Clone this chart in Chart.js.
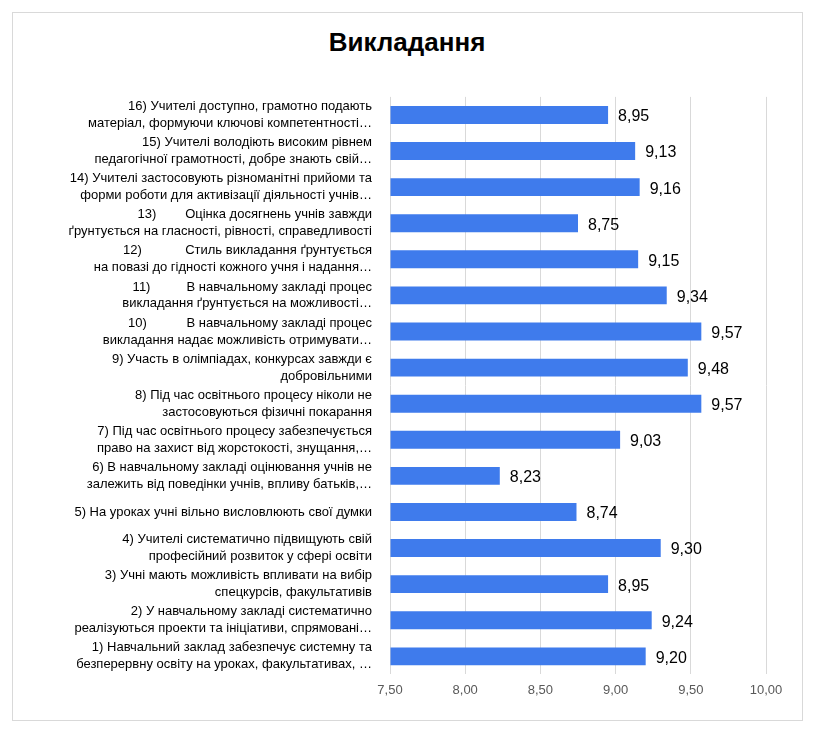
<!DOCTYPE html>
<html><head><meta charset="utf-8">
<script src="https://cdn.jsdelivr.net/npm/chart.js@4"></script>
<style>
body{margin:0;background:#fff;}
#box{position:absolute;left:12px;top:12px;width:789px;height:707px;border:1px solid #d9d9d9;}
#t{position:absolute;left:0;top:27px;width:814px;text-align:center;font:bold 26px "Liberation Sans",Arial,sans-serif;color:#000;}
#wrap{position:absolute;left:0;top:70px;width:814px;height:650px;}
</style></head><body>
<div id="box"></div>
<div id="t">Викладання</div>
<div id="wrap"><canvas id="c"></canvas></div>
<script>
const labels = [
  ["16) Учителі доступно, грамотно подають","матеріал, формуючи ключові компетентності…"],
  ["15) Учителі володіють високим рівнем","педагогічної грамотності, добре знають свій…"],
  ["14) Учителі застосовують різноманітні прийоми та","форми роботи для активізації діяльності учнів…"],
  ["13)        Оцінка досягнень учнів завжди","ґрунтується на гласності, рівності, справедливості"],
  ["12)            Стиль викладання ґрунтується","на повазі до гідності кожного учня і надання…"],
  ["11)          В навчальному закладі процес","викладання ґрунтується на можливості…"],
  ["10)           В навчальному закладі процес","викладання надає можливість отримувати…"],
  ["9) Участь в олімпіадах, конкурсах завжди є","добровільними"],
  ["8) Під час освітнього процесу ніколи не","застосовуються фізичні покарання"],
  ["7) Під час освітнього процесу забезпечується","право на захист від жорстокості, знущання,…"],
  ["6) В навчальному закладі оцінювання учнів не","залежить від поведінки учнів, впливу батьків,…"],
  "5) На уроках учні вільно висловлюють свої думки",
  ["4) Учителі систематично підвищують свій","професійний розвиток у сфері освіти"],
  ["3) Учні мають можливість впливати на вибір","спецкурсів, факультативів"],
  ["2) У навчальному закладі систематично","реалізуються проекти та ініціативи, спрямовані…"],
  ["1) Навчальний заклад забезпечує системну та","безперервну освіту на уроках, факультативах, …"]
];
const values = [8.95, 9.13, 9.16, 8.75, 9.15, 9.34, 9.57, 9.48, 9.57, 9.03, 8.23, 8.74, 9.30, 8.95, 9.24, 9.20];
const xMin = 7.5, xMax = 10, xStep = 0.5;
const fmt = v => v.toFixed(2).replace('.', ',');

const valueLabels = {
  id: 'valueLabels',
  afterDatasetsDraw(chart) {
    const ctx = chart.ctx;
    ctx.save();
    ctx.font = '16px "Liberation Sans", Arial, sans-serif';
    ctx.fillStyle = '#000';
    ctx.textBaseline = 'middle';
    chart.getDatasetMeta(0).data.forEach((b, i) => {
      ctx.fillText(fmt(values[i]), b.x + 10, b.y + 2);
    });
    ctx.restore();
  }
};

new Chart(document.getElementById('c'), {
  type: 'bar',
  data: { labels, datasets: [{
    data: values,
    backgroundColor: c => {
      const el = c.element;
      if (!el || !Number.isFinite(el.y)) return '#3f7bec';
      const h = 9;
      const g = c.chart.ctx.createLinearGradient(0, el.y - h, 0, el.y + h);
      g.addColorStop(0, '#6a9af7'); g.addColorStop(1, '#2563e0');
      return g;
    },
    barPercentage: 0.8, categoryPercentage: 0.62,
    base: xMin
  }]},
  options: {
    indexAxis: 'y', responsive: true, maintainAspectRatio: false, animation: false,
    layout: { padding: { top: 10, right: 48, bottom: 14, left: 0 } },
    plugins: { legend: { display: false }, tooltip: { enabled: false } },
    scales: {
      x: { min: xMin, max: xMax, ticks: { stepSize: xStep, callback: v => fmt(v), color: '#595959',
             font: { size: 13, family: '"Liberation Sans", Arial, sans-serif' }, padding: 8 },
           grid: { color: '#d9d9d9', drawTicks: false }, border: { display: false } },
      y: { ticks: { color: '#000', font: { size: 13, family: '"Liberation Sans", Arial, sans-serif', lineHeight: 1.3 }, padding: 10, autoSkip: false },
           grid: { display: false }, border: { display: false },
           afterFit: s => { s.width = 390; } }
    }
  },
  plugins: [valueLabels]
});
</script>
</body></html>
